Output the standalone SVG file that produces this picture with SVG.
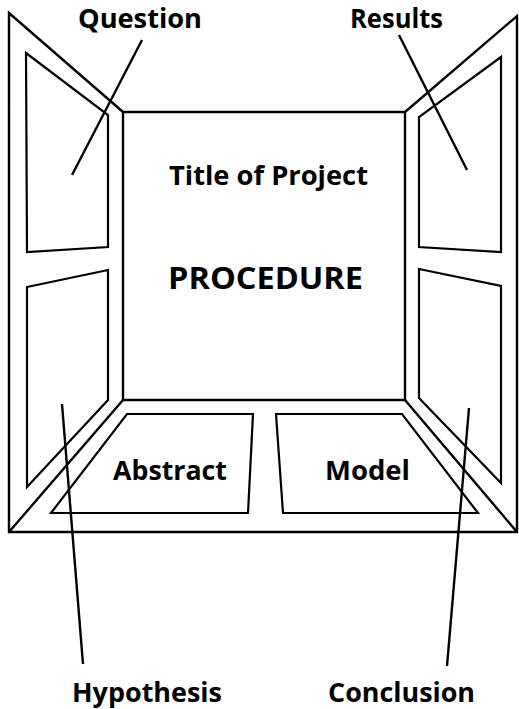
<svg xmlns="http://www.w3.org/2000/svg" width="519" height="709" viewBox="0 0 519 709">
<style>
.f{fill:none;stroke:#000;stroke-width:2.4;stroke-linejoin:miter}
.w{fill:none;stroke:#000;stroke-width:2.2}
.c{fill:none;stroke:#000;stroke-width:2.4}
text{font-family:"Open Sans","Noto Sans","DejaVu Sans",sans-serif;font-weight:bold;fill:#000;text-anchor:middle}
.l{font-size:26px}
.t{font-size:27.5px}
.p{font-size:30px}
</style>
<rect width="519" height="709" fill="#fff"/>
<g id="frame">
<path class="f" d="M9,13 L123,112 L405,112 L517,16 L517,532 L9,532 Z"/>
<path class="f" d="M123,112 L123,400 L405,400 L405,112"/>
<path class="f" d="M123,400 L9,532 M405,400 L517,532"/>
</g>
<g id="question-panel"><polygon class="w" points="26,53 108,115 108,247 27,252"/></g>
<g id="hypothesis-panel"><polygon class="w" points="27,287 108,270 108,400 27,487"/></g>
<g id="results-panel"><polygon class="w" points="501,57 419,117 419,247 501,252"/></g>
<g id="conclusion-panel"><polygon class="w" points="419,269 501,286 501,483 419,398"/></g>
<g id="procedure-panel">
<text class="t" x="268.5" y="185" textLength="199" lengthAdjust="spacingAndGlyphs">Title of Project</text>
<text class="p" x="265.5" y="289" textLength="195" lengthAdjust="spacingAndGlyphs">PROCEDURE</text>
</g>
<g id="abstract-panel">
<polygon class="w" points="127,414 253,414 248,513 51,513"/>
<text class="l" x="170" y="480" textLength="114" lengthAdjust="spacingAndGlyphs">Abstract</text>
</g>
<g id="model-panel">
<polygon class="w" points="276,414 402,414 478,513 283,513"/>
<text class="l" x="367.5" y="480" textLength="85" lengthAdjust="spacingAndGlyphs">Model</text>
</g>
<g id="labels">
<text class="l" x="140" y="28" textLength="124" lengthAdjust="spacingAndGlyphs">Question</text>
<text class="l" x="396.5" y="28" textLength="93" lengthAdjust="spacingAndGlyphs">Results</text>
<text class="l" x="147" y="702" textLength="150" lengthAdjust="spacingAndGlyphs">Hypothesis</text>
<text class="l" x="401.5" y="702" textLength="147" lengthAdjust="spacingAndGlyphs">Conclusion</text>
</g>
<g id="connectors">
<line class="c" x1="142" y1="40" x2="72" y2="175"/>
<line class="c" x1="399" y1="35" x2="467" y2="170"/>
<line class="c" x1="62" y1="404" x2="83" y2="664"/>
<line class="c" x1="469" y1="408" x2="447" y2="666"/>
</g>
</svg>
